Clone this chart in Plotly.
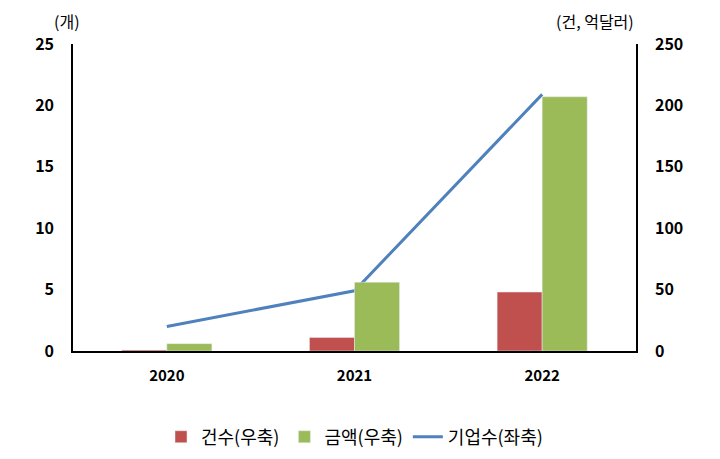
import plotly.graph_objects as go

years = ["2020", "2021", "2022"]
deal_count = [0.8, 11, 48]        # 건수 (right axis)
deal_amount = [6, 56, 207]        # 금액 (right axis)
companies = [2.0, 4.9, 20.9]      # 기업수 (left axis)

font = "Noto Sans CJK KR"

fig = go.Figure()
fig.add_trace(go.Bar(x=years, y=deal_count, name="건수(우축)", marker_color="#c0504d", yaxis="y2"))
fig.add_trace(go.Bar(x=years, y=deal_amount, name="금액(우축)", marker_color="#9bbb59", yaxis="y2"))
fig.add_trace(go.Scatter(x=years, y=companies, name="기업수(좌축)", mode="lines",
                         line=dict(color="#4f81bd", width=3)))

fig.update_layout(
    width=720, height=459,
    margin=dict(l=65, r=92, t=36, b=110),
    paper_bgcolor="white", plot_bgcolor="white",
    font=dict(family=font, size=15, color="black"),
    barmode="group", bargap=0.52, bargroupgap=0,
    showlegend=True,
    legend=dict(orientation="h", x=0.5, xanchor="center", y=-0.22, yanchor="top",
                font=dict(size=18), traceorder="normal"),
    xaxis=dict(showline=True, linecolor="black", linewidth=1.5, ticks="",
               ticklabelstandoff=10, tickfont=dict(size=15, family=font, weight="bold")),
    yaxis=dict(range=[0, 25], dtick=5, showgrid=False, showline=True, linecolor="black",
               linewidth=1.5, ticks="", zeroline=False, ticklabelstandoff=14,
               tickfont=dict(size=16, weight="bold")),
    yaxis2=dict(range=[0, 250], dtick=50, showgrid=False, showline=True, linecolor="black",
                linewidth=1.5, ticks="", overlaying="y", side="right", zeroline=False,
                ticklabelstandoff=14, tickfont=dict(size=16, weight="bold")),
    annotations=[
        dict(text="(개)", xref="paper", yref="paper", x=-0.01, y=1.03, xanchor="center",
             yanchor="bottom", showarrow=False, font=dict(size=16)),
        dict(text="(건, 억달러)", xref="paper", yref="paper", x=1.0, y=1.03, xanchor="right",
             yanchor="bottom", showarrow=False, font=dict(size=16)),
    ],
)

fig.write_html("out.html")
